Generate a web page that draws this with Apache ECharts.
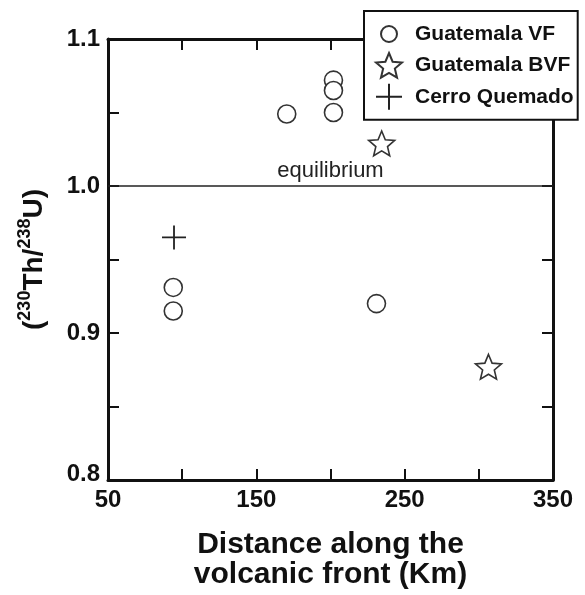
<!DOCTYPE html>
<html>
<head>
<meta charset="utf-8">
<script src="https://cdn.jsdelivr.net/npm/echarts@6/dist/echarts.min.js"></script>
<style>html,body{margin:0;padding:0;background:#fff;}#chart{width:585px;height:595px;}</style>
</head>
<body>
<div id="chart"></div>
<script>
// Data: [distance (km), (230Th/238U)]
const guatemalaVF = [[170.5, 1.049], [202, 1.072], [202, 1.065], [202, 1.050], [94, 0.931], [94, 0.915], [231, 0.920]];
const guatemalaBVF = [[234.5, 1.029], [306.5, 0.877]];
const cerroQuemado = [[94.5, 0.965]];
const equilibriumValue = 1.0;
const xLabelValues = [50, 150, 250, 350];
const yLabelValues = [0.8, 0.9, 1.0, 1.1];

const FONT = '"Liberation Sans", Arial, Helvetica, sans-serif';
const STAR = 'path://M0,-10L2.645,-3.641L9.511,-3.09L4.28,1.391L5.878,8.09L0,4.5L-5.878,8.09L-4.28,1.391L-9.511,-3.09L-2.645,-3.641Z';
const CROSS = 'path://M0,10L20,10M10,0L10,20';
// legend circle drawn smaller inside the same icon box (zero-length corner segments set the box)
const LEGEND_CIRCLE = 'path://M-13,-13L-13,-13M13,13L13,13M8,0A8,8 0 1 1 -8,0A8,8 0 1 1 8,0Z';
const MARK = '#333';

const chart = echarts.init(document.getElementById('chart'), null, {renderer: 'canvas'});
const axisLineStyle = {color: '#111', width: 3};
const tickStyle = {show: true, inside: true, length: 11, lineStyle: {color: '#111', width: 2}};

const option = {
  backgroundColor: '#fff',
  animation: false,
  grid: {left: 108, right: 32, top: 39, bottom: 114},
  legend: {
    orient: 'vertical',
    left: 364, top: 11,
    padding: [9, 4, 9, 11],
    itemWidth: 26, itemHeight: 26, itemGap: 4,
    backgroundColor: '#fff',
    borderColor: '#111', borderWidth: 2, borderRadius: 0,
    textStyle: {fontFamily: FONT, fontSize: 21, fontWeight: 'bold', color: '#111', padding: [0, 0, 0, 8]},
    data: [
      {name: 'Guatemala VF', icon: LEGEND_CIRCLE},
      {name: 'Guatemala BVF'},
      {name: 'Cerro Quemado'}
    ]
  },
  xAxis: [{
    type: 'value', min: 50, max: 350, interval: 50, position: 'bottom',
    axisLine: {show: true, lineStyle: axisLineStyle},
    axisTick: tickStyle, splitLine: {show: false},
    axisLabel: {
      fontFamily: FONT, fontSize: 24, fontWeight: 'bold', color: '#111', margin: 8,
      formatter: v => xLabelValues.includes(Math.round(v)) ? String(Math.round(v)) : ''
    },
    name: 'Distance along the\nvolcanic front (Km)', nameLocation: 'middle', nameGap: 50,
    nameTextStyle: {fontFamily: FONT, fontSize: 30, fontWeight: 'bold', color: '#111', lineHeight: 30}
  }, {
    type: 'value', min: 50, max: 350, interval: 50, position: 'top',
    axisLine: {show: true, lineStyle: axisLineStyle},
    axisTick: tickStyle, axisLabel: {show: false}, splitLine: {show: false}
  }],
  yAxis: [{
    type: 'value', min: 0.8, max: 1.1, interval: 0.05, position: 'left',
    axisLine: {show: true, lineStyle: axisLineStyle},
    axisTick: tickStyle, splitLine: {show: false},
    axisLabel: {
      fontFamily: FONT, fontSize: 24, fontWeight: 'bold', color: '#111', margin: 8,
      formatter: v => {
        const k = Math.round(v * 100);
        const hit = yLabelValues.find(y => Math.round(y * 100) === k);
        if (hit === undefined) return '';
        const s = hit.toFixed(1);
        return k === 80 ? '{lo|' + s + '}' : s;
      },
      rich: {lo: {fontFamily: FONT, fontSize: 24, fontWeight: 'bold', color: '#111', padding: [0, 0, 12, 0]}}
    },
    name: '{m|(}{s|230}{m|Th/}{s|238}{m|U)}', nameLocation: 'middle', nameGap: 60,
    nameTextStyle: {
      rich: {
        m: {fontFamily: FONT, fontSize: 28, fontWeight: 'bold', color: '#111', lineHeight: 32, verticalAlign: 'bottom'},
        s: {fontFamily: FONT, fontSize: 18, fontWeight: 'bold', color: '#111', lineHeight: 32, verticalAlign: 'top', padding: [0, 0, 12, 0]}
      }
    }
  }, {
    type: 'value', min: 0.8, max: 1.1, interval: 0.05, position: 'right',
    axisLine: {show: true, lineStyle: axisLineStyle},
    axisTick: tickStyle, axisLabel: {show: false}, splitLine: {show: false}
  }],
  series: [{
    name: 'Guatemala VF', type: 'scatter', data: guatemalaVF,
    symbol: 'circle', symbolSize: 18,
    itemStyle: {color: '#fff', borderColor: MARK, borderWidth: 1.6, opacity: 1},
    z: 3,
    markLine: {
      silent: true, symbol: 'none', animation: false,
      lineStyle: {color: '#222', width: 1.6, type: 'solid'},
      label: {show: true, position: 'insideMiddleTop', distance: 4, formatter: 'equilibrium',
        fontFamily: FONT, fontSize: 22, color: '#222'},
      data: [{yAxis: equilibriumValue}]
    }
  }, {
    name: 'Guatemala BVF', type: 'scatter', data: guatemalaBVF,
    symbol: STAR, symbolSize: 26, symbolKeepAspect: true,
    itemStyle: {color: '#fff', borderColor: MARK, borderWidth: 1.6, opacity: 1},
    z: 3
  }, {
    name: 'Cerro Quemado', type: 'scatter', data: cerroQuemado,
    symbol: CROSS, symbolSize: 24,
    itemStyle: {color: 'rgba(0,0,0,0)', borderColor: '#222', borderWidth: 1.8, opacity: 1},
    z: 3
  }]
};
chart.setOption(option);
</script>
</body>
</html>
